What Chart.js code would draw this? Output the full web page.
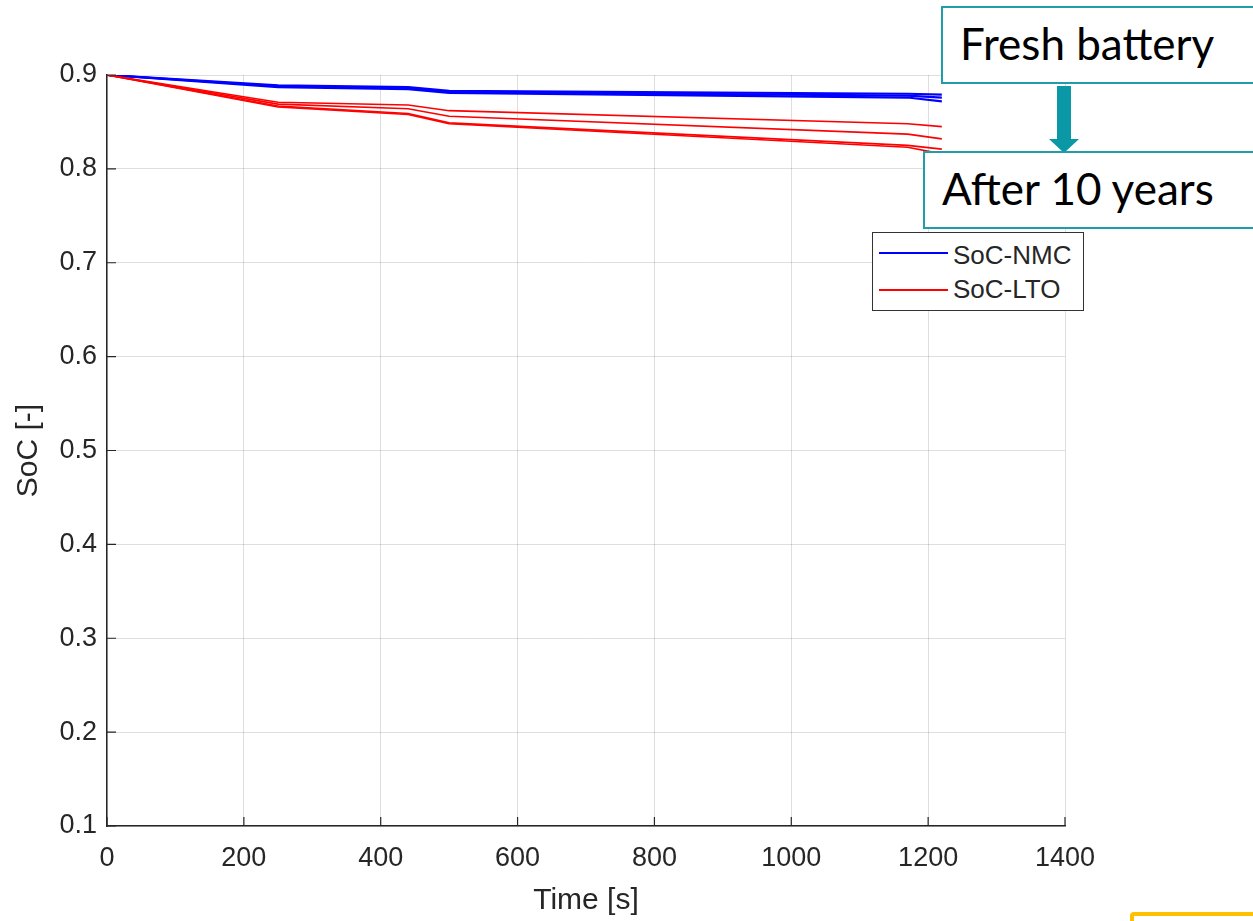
<!DOCTYPE html>
<html>
<head>
<meta charset="utf-8">
<script src="https://cdn.jsdelivr.net/npm/chart.js@4.4.0/dist/chart.umd.min.js"></script>
<style>
  html, body { margin: 0; padding: 0; background: #fff; }
  #wrap { position: relative; width: 1253px; height: 921px; overflow: hidden; }
  #soc { position: absolute; left: 0; top: 0; }
  .note { position: absolute; border: 2px solid #1f9ea9; background: #fff;
          font-family: Lato, "Open Sans", sans-serif; font-size: 44px; line-height: 1; color: #000;
          box-sizing: border-box; }
  .note span { position: absolute; white-space: nowrap; }
  #legend { position: absolute; left: 872px; top: 232px; width: 212px; height: 79px;
            border: 1.5px solid #333; background: #fff; box-sizing: border-box;
            font-family: "Liberation Sans", Arial, sans-serif; font-size: 26px; color: #262626; }
  #legend span.ln { position: absolute; left: 6px; width: 69px; height: 0; border-top: 2px solid; }
  #legend span.tx { position: absolute; left: 80px; line-height: 26px; white-space: nowrap; }
  #yellow { position: absolute; left: 1130px; top: 912px; width: 140px; height: 30px;
            border: 4px solid #ffc000; border-radius: 4px; box-sizing: border-box; }
</style>
</head>
<body>
<div id="wrap">
  <canvas id="soc" width="1253" height="921"></canvas>
  <div id="legend"></div>
  <div class="note" style="left:941px;top:6px;width:330px;height:78px;">
    <span style="left:17px;top:13px;">Fresh battery</span>
  </div>
  <svg style="position:absolute;left:1040px;top:84px;" width="50" height="72">
    <rect x="17" y="2" width="14" height="54" fill="#0a97a6"/>
    <polygon points="9,55 39,55 24,69" fill="#0a97a6"/>
  </svg>
  <div class="note" style="left:923px;top:151px;width:350px;height:78px;">
    <span style="left:17px;top:13px;">After 10 years</span>
  </div>
  <div id="yellow"></div>
</div>
<script>
// time points (s) where the curves bend
const timeS = [0, 250, 440, 500, 1170, 1220];

// SoC-NMC runs (blue)
const nmcA = [0.900, 0.889, 0.887, 0.883, 0.880, 0.879];
const nmcB = [0.900, 0.888, 0.886, 0.882, 0.878, 0.876];
const nmcC = [0.900, 0.887, 0.885, 0.881, 0.876, 0.872];

// SoC-LTO runs (red)
const ltoA = [0.900, 0.871, 0.868, 0.862, 0.848, 0.845];
const ltoB = [0.900, 0.869, 0.864, 0.856, 0.837, 0.832];
const ltoC = [0.900, 0.867, 0.859, 0.849, 0.825, 0.821];
const ltoD = [0.900, 0.866, 0.858, 0.848, 0.823, 0.816];

const legendNames = ["SoC-NMC", "SoC-LTO"];
const legendColors = ["#0000ff", "#ff0000"];

const xTicks = [0, 200, 400, 600, 800, 1000, 1200, 1400];
const yTicks = [0.1, 0.2, 0.3, 0.4, 0.5, 0.6, 0.7, 0.8, 0.9];

const toPts = (ys) => ys.map((y, i) => ({ x: timeS[i], y: y }));

const mkSet = (label, ys, color, w) => ({
    label: label,
    data: toPts(ys),
    borderColor: color,
    borderWidth: w,
    pointRadius: 0,
    fill: false,
    tension: 0
});

const datasets = [
    mkSet("SoC-LTO", ltoA, "#ff0000", 1.6),
    mkSet("SoC-LTO", ltoB, "#ff0000", 1.6),
    mkSet("SoC-LTO", ltoC, "#ff0000", 1.6),
    mkSet("SoC-LTO", ltoD, "#ff0000", 1.6),
    mkSet("SoC-NMC", nmcA, "#0000ff", 2.2),
    mkSet("SoC-NMC", nmcB, "#0000ff", 2.2),
    mkSet("SoC-NMC", nmcC, "#0000ff", 2.2)
];

// legend box like matlab
const legendEl = document.getElementById("legend");
legendNames.forEach((name, i) => {
    const ln = document.createElement("span");
    ln.className = "ln";
    ln.style.borderColor = legendColors[i];
    ln.style.top = (19 + i * 37) + "px";
    const tx = document.createElement("span");
    tx.className = "tx";
    tx.style.top = (9 + i * 34) + "px";
    tx.textContent = name;
    legendEl.appendChild(ln);
    legendEl.appendChild(tx);
});

const ink = "#262626";
const tickFont = { family: "'Liberation Sans', Arial, sans-serif", size: 27 };
const titleFont = { family: "'Liberation Sans', Arial, sans-serif", size: 30 };
const gridCol = "rgba(0,0,0,0.13)";

// matlab style ticks pointing into the plot
const innerTicks = {
    id: "innerTicks",
    afterDraw(chart) {
        const { ctx, chartArea: a, scales } = chart;
        ctx.save();
        ctx.strokeStyle = ink;
        ctx.lineWidth = 1.2;
        ctx.beginPath();
        xTicks.forEach(v => {
            const px = scales.x.getPixelForValue(v);
            ctx.moveTo(px, a.bottom);
            ctx.lineTo(px, a.bottom - 9);
        });
        yTicks.forEach(v => {
            const py = scales.y.getPixelForValue(v);
            ctx.moveTo(a.left, py);
            ctx.lineTo(a.left + 9, py);
        });
        ctx.stroke();
        ctx.restore();
    }
};

new Chart(document.getElementById("soc"), {
    type: "line",
    data: { datasets: datasets },
    plugins: [innerTicks],
    options: {
        responsive: false,
        animation: false,
        layout: { padding: { left: 0, top: 75, right: 188, bottom: 0 } },
        plugins: {
            legend: { display: false },
            tooltip: { enabled: false }
        },
        scales: {
            x: {
                type: "linear",
                min: 0,
                max: 1400,
                afterBuildTicks: (s) => { s.ticks = xTicks.map(v => ({ value: v })); },
                afterFit: (s) => { s.height = 95; },
                ticks: { color: ink, font: tickFont, padding: 16, maxRotation: 0, callback: (v) => String(v) },
                grid: { color: gridCol, drawTicks: false, lineWidth: 1 },
                border: { display: true, color: ink, width: 1.5 },
                title: { display: true, text: "Time [s]", color: ink, font: titleFont, padding: { top: 0, bottom: 2 } }
            },
            y: {
                type: "linear",
                min: 0.1,
                max: 0.9,
                afterBuildTicks: (s) => { s.ticks = yTicks.map(v => ({ value: v })); },
                afterFit: (s) => { s.width = 107; },
                ticks: { color: ink, font: tickFont, padding: 10, callback: (v) => Number(v).toFixed(1) },
                grid: { color: gridCol, drawTicks: false, lineWidth: 1 },
                border: { display: true, color: ink, width: 1.5 },
                title: { display: true, text: "SoC [-]", color: ink, font: titleFont, padding: { top: 11, bottom: 0 } }
            }
        }
    }
});
</script>
</body>
</html>
